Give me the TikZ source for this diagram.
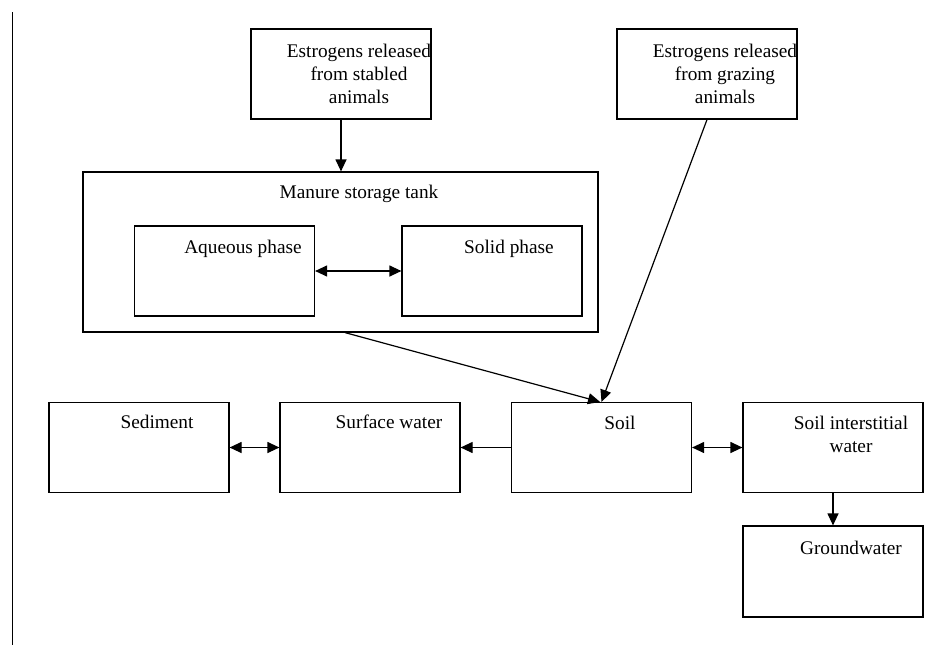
\documentclass[tikz,border=0pt]{standalone}
\usepackage{fontspec}
\setmainfont{Liberation Serif}
\usetikzlibrary{positioning,arrows.meta}

\tikzset{
  box/.style={draw, minimum width=180pt, minimum height=90pt, inner sep=0pt},
  txt/.style={inner sep=0pt, anchor=base, align=center, font=\fontsize{19.3}{23}\selectfont},
}

\begin{document}
\begin{tikzpicture}[x=1pt, y=-1pt, line width=1.2pt, >={Triangle[length=12pt,width=11pt]}]
  \useasboundingbox (0,0) rectangle (947,645);
  \coordinate (rtop) at (12.5,12);
  \coordinate (rbot) at (12.5,645);
  \draw (rtop) -- (rbot);

  % boxes
  \node [box] (stabled) at (341,74) {};
  \node [box] (grazing) at (707,74) {};
  \node [box, minimum width=515pt, minimum height=160pt] (tank) at (340.5,252) {};
  \node [box] (aqueous) at (224.5,271) {};
  \node [box] (solid) at (492,271) {};
  \node [box] (sediment) at (139,447.5) {};
  \node [box] (surface) at (370,447.5) {};
  \node [box] (soil) at (601.5,447.5) {};
  \node [box] (interstitial) at (833,447.5) {};
  \node [box, minimum height=91pt] (ground) at (833,571.5) {};

  % texts (base = last line)
  \node [txt] (stabledtxt) at ([xshift=18pt,yshift=-75pt]stabled.north) {Estrogens released\\from stabled\\animals};
  \node [txt] (grazingtxt) at ([xshift=18pt,yshift=-75pt]grazing.north) {Estrogens released\\from grazing\\animals};
  \node [txt] (tanktxt) at ([xshift=18.5pt,yshift=-27pt]tank.north) {Manure storage tank};
  \node [txt] (aqueoustxt) at ([xshift=18.5pt,yshift=-28pt]aqueous.north) {Aqueous phase};
  \node [txt] (solidtxt) at ([xshift=17pt,yshift=-28pt]solid.north) {Solid phase};
  \node [txt] (sedimenttxt) at ([xshift=18pt,yshift=-27pt]sediment.north) {Sediment};
  \node [txt] (surfacetxt) at ([xshift=19pt,yshift=-27pt]surface.north) {Surface water};
  \node [txt] (soiltxt) at ([xshift=18.5pt,yshift=-28pt]soil.north) {Soil};
  \node [txt] (interstitialtxt) at ([xshift=18pt,yshift=-51pt]interstitial.north) {Soil interstitial\\water};
  \node [txt] (groundtxt) at ([xshift=18pt,yshift=-29pt]ground.north) {Groundwater};

  % arrows
  \draw [->] (stabled.south) -- (tank.north -| stabled.south);
  \draw [<->] (aqueous) -- (solid);
  \draw [->] ([xshift=4.5pt]tank.south) -- ([xshift=-1.5pt]soil.north);
  \draw [->] (grazing.south) -- (soil.north);
  \draw [->] (soil) -- (surface);
  \draw [<->] (sediment) -- (surface);
  \draw [<->] (soil) -- (interstitial);
  \draw [->] (interstitial) -- (ground);
\end{tikzpicture}
\end{document}
